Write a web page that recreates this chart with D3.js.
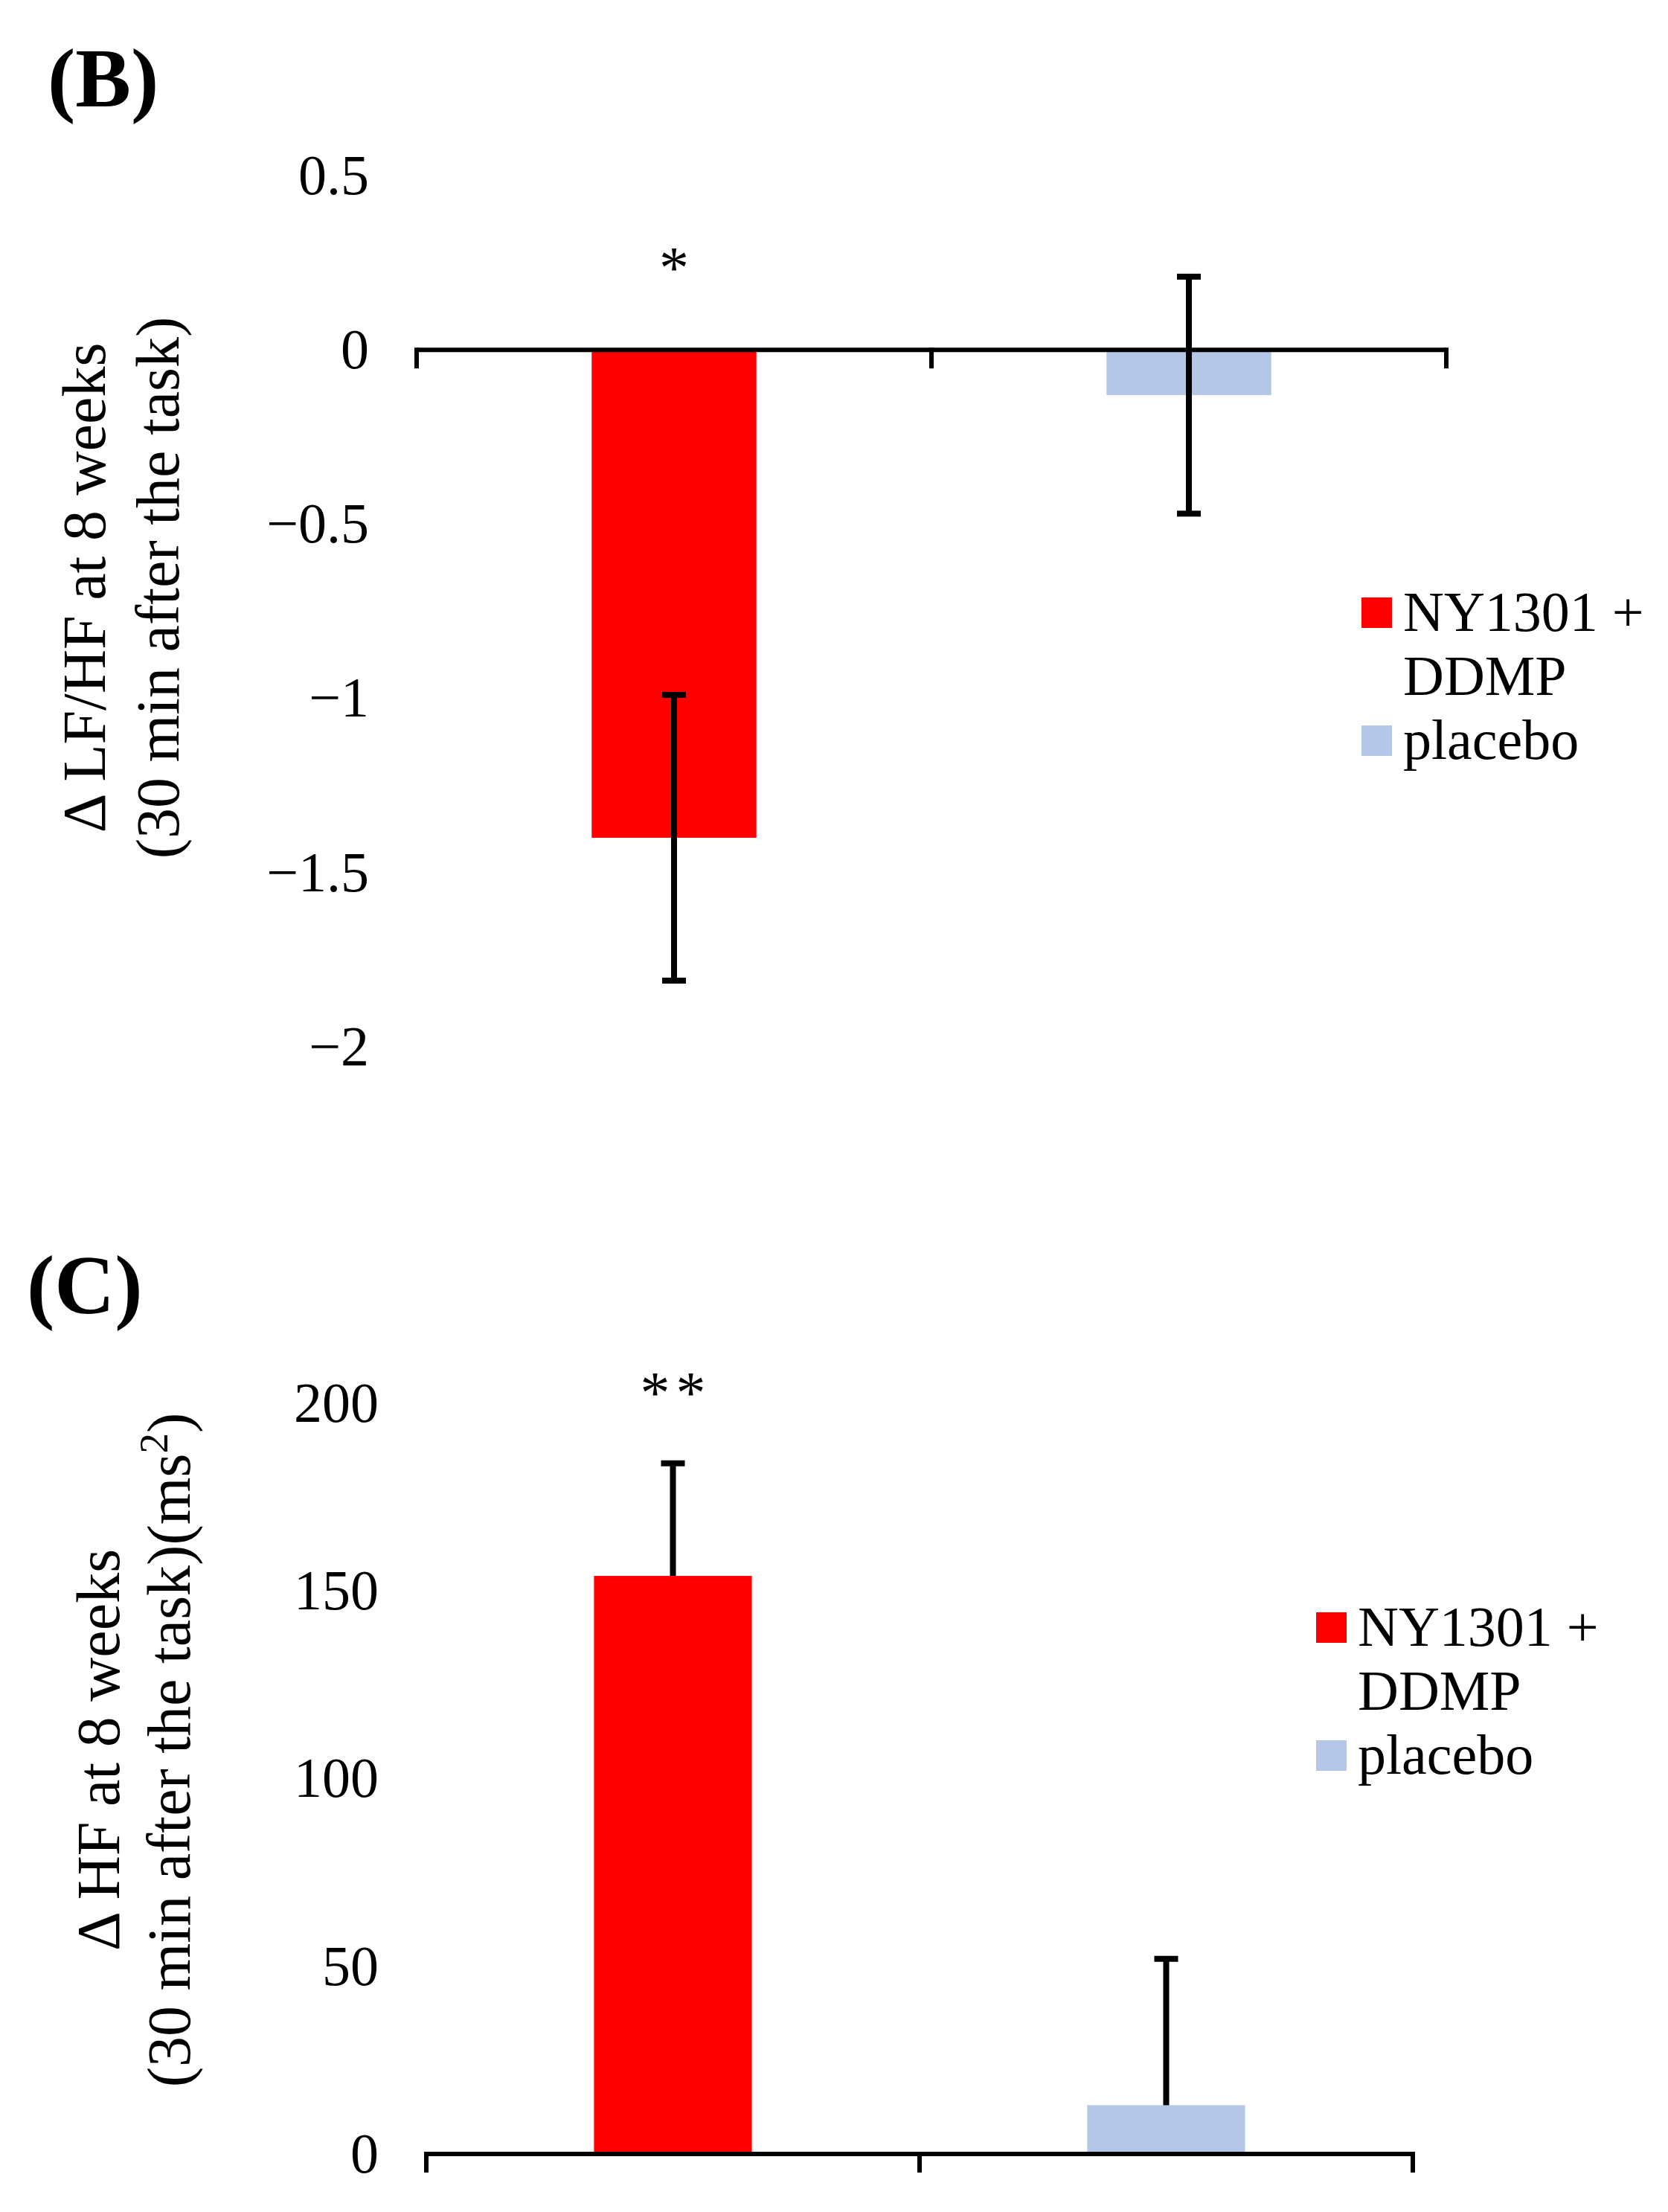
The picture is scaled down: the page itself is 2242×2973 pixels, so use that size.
<!DOCTYPE html>
<html lang="en">
<head>
    <meta charset="UTF-8">
    <title>LF/HF and HF bar charts</title>
    <script src="https://d3js.org/d3.v7.min.js"></script>
</head>
<body>
    <div id="chart"></div>

    <script>
        // Data
        const groups = ['NY1301 + DDMP', 'placebo'];
        const legendLines = [['NY1301 +', 'DDMP'], ['placebo']];
        const colors = ['#ff0000', '#b4c7e7'];

        const lfhfMeans = [-1.40, -0.13];
        const lfhfErrors = [0.41, 0.34];
        const lfhfTicks = [0.5, 0, -0.5, -1, -1.5, -2];

        const hfMeans = [154, 13];
        const hfErrors = [30, 39];
        const hfTicks = [0, 50, 100, 150, 200];

        const width = 2242;
        const height = 2973;
        const font = '"Liberation Serif", "Times New Roman", serif';

        const svg = d3.select('#chart')
            .append('svg')
            .attr('width', width)
            .attr('height', height)
            .style('font-family', font);

        svg.append('rect')
            .attr('width', width)
            .attr('height', height)
            .attr('fill', '#fff');

        // draws one panel
        function drawPanel(cfg) {
            const g = svg.append('g');

            const x = d3.scaleBand()
                .domain(groups)
                .range([cfg.left, cfg.right])
                .paddingInner(0.68)
                .paddingOuter(0.34);

            const y = d3.scaleLinear()
                .domain(cfg.domain)
                .range([cfg.bottom, cfg.top]);

            // panel letter
            g.append('text')
                .attr('x', cfg.labelX)
                .attr('y', cfg.labelY)
                .attr('font-size', 112)
                .attr('font-weight', 'bold')
                .text(cfg.label);

            // y tick labels only, no axis line
            const yAxis = g.append('g')
                .attr('transform', `translate(${cfg.left},0)`)
                .call(d3.axisLeft(y).tickValues(cfg.ticks).tickSize(0).tickPadding(64).tickFormat(d3.format('')));
            yAxis.select('.domain').remove();
            yAxis.selectAll('text')
                .attr('font-size', 76)
                .attr('font-family', font)
                .attr('fill', '#000');

            // bars
            g.selectAll('.bar')
                .data(cfg.means)
                .enter()
                .append('rect')
                .attr('class', 'bar')
                .attr('x', (d, i) => x(groups[i]))
                .attr('width', x.bandwidth())
                .attr('y', d => Math.min(y(d), y(0)))
                .attr('height', d => Math.abs(y(d) - y(0)))
                .attr('fill', (d, i) => colors[i]);

            // error bars
            const cap = 16;
            cfg.means.forEach((m, i) => {
                const cx = x(groups[i]) + x.bandwidth() / 2;
                const lo = cfg.upperOnly ? m : m - cfg.errors[i];
                const hi = m + cfg.errors[i];
                g.append('line')
                    .attr('x1', cx).attr('x2', cx)
                    .attr('y1', y(lo)).attr('y2', y(hi))
                    .attr('stroke', '#000').attr('stroke-width', 8);
                const ends = cfg.upperOnly ? [hi] : [lo, hi];
                ends.forEach(v => {
                    g.append('line')
                        .attr('x1', cx - cap).attr('x2', cx + cap)
                        .attr('y1', y(v)).attr('y2', y(v))
                        .attr('stroke', '#000').attr('stroke-width', 8);
                });
            });

            // x axis at zero with category boundary ticks
            const y0 = y(0);
            g.append('line')
                .attr('x1', cfg.left).attr('x2', cfg.right)
                .attr('y1', y0).attr('y2', y0)
                .attr('stroke', '#000').attr('stroke-width', 6);
            const bounds = d3.range(groups.length + 1).map(i => cfg.left + i * x.step());
            g.selectAll('.xtick')
                .data(bounds)
                .enter()
                .append('line')
                .attr('x1', d => d).attr('x2', d => d)
                .attr('y1', y0 - 3).attr('y2', y0 + 25)
                .attr('stroke', '#000').attr('stroke-width', 6);

            // significance marks (dx undoes the trailing letter-spacing)
            g.append('text')
                .attr('x', x(groups[0]) + x.bandwidth() / 2)
                .attr('y', cfg.starY)
                .attr('dx', 4)
                .attr('text-anchor', 'middle')
                .attr('font-size', 80)
                .attr('letter-spacing', 8)
                .text(cfg.stars);

            // y axis title, two lines rotated
            cfg.title.forEach((t, k) => {
                g.append('text')
                    .attr('transform', `translate(${cfg.titleX[k]},${cfg.titleY}) rotate(-90)`)
                    .attr('text-anchor', 'middle')
                    .attr('font-size', 82)
                    .html(t);
            });

            // legend
            const lg = g.append('g')
                .attr('transform', `translate(${cfg.legendX},${cfg.legendY})`);
            let row = 0;
            legendLines.forEach((lines, i) => {
                lg.append('rect')
                    .attr('x', 0)
                    .attr('y', row * 86 - 45)
                    .attr('width', 41)
                    .attr('height', 41)
                    .attr('fill', colors[i]);
                lines.forEach((ln, j) => {
                    lg.append('text')
                        .attr('x', 56)
                        .attr('y', (row + j) * 86)
                        .attr('font-size', 76)
                        .text(ln);
                });
                row += lines.length;
            });
        }

        drawPanel({
            label: '(B)', labelX: 64, labelY: 143,
            left: 560, right: 1944, top: 236, bottom: 1407,
            domain: [-2, 0.5], ticks: lfhfTicks,
            means: lfhfMeans, errors: lfhfErrors, upperOnly: false,
            stars: '*', starY: 387,
            title: ['\u0394 LF/HF at 8 weeks', '(30 min after the task)'],
            titleX: [141, 240], titleY: 790,
            legendX: 1830, legendY: 848
        });

        drawPanel({
            label: '(C)', labelX: 36, labelY: 1765,
            left: 573, right: 1899, top: 1886, bottom: 2895,
            domain: [0, 200], ticks: hfTicks,
            means: hfMeans, errors: hfErrors, upperOnly: true,
            stars: '**', starY: 1899,
            title: ['\u0394 HF at 8 weeks', '(30 min after the task)(ms<tspan baseline-shift="super" font-size="55">2</tspan>)'],
            titleX: [160, 255], titleY: 2352,
            legendX: 1769, legendY: 2212
        });
    </script>
</body>
<style>
    body {
        margin: 0;
        background: #fff;
    }
</style>
</html>
